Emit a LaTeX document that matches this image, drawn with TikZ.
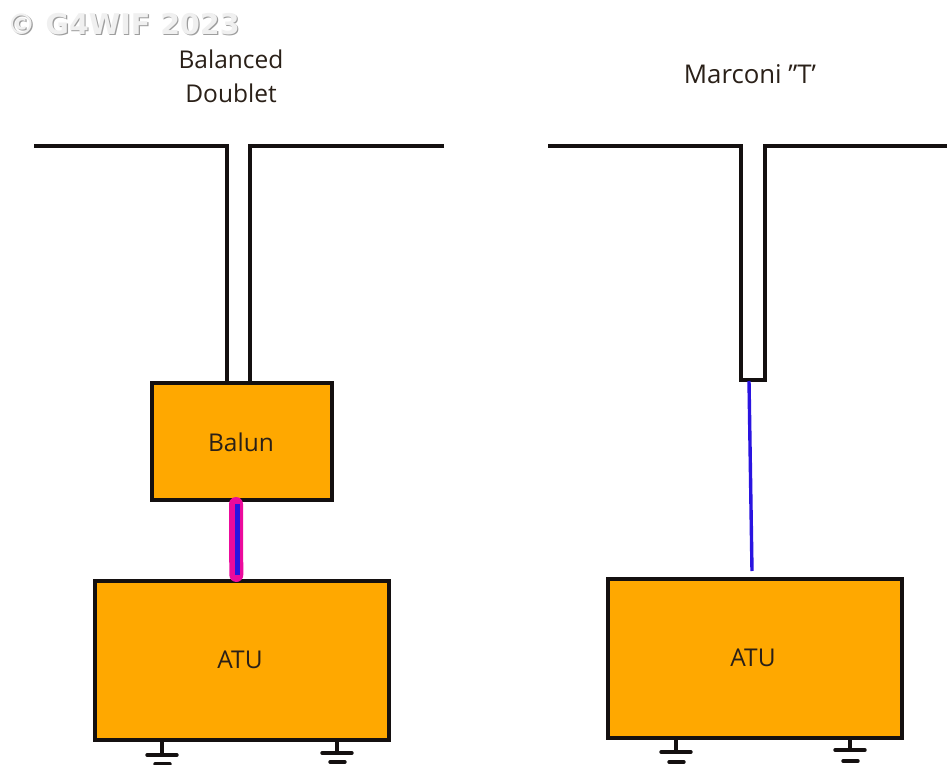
\documentclass[tikz,border=0pt]{standalone}
\usepackage{fontspec}
\setmainfont{Open Sans}
\newfontfamily\markfont{DejaVu Sans}
\definecolor{boxorange}{HTML}{FFA800}
\definecolor{feedmagenta}{HTML}{EC0A9C}
\definecolor{feedblue}{HTML}{2A14E0}
\definecolor{inkblack}{HTML}{141010}
\definecolor{textdark}{HTML}{2A2018}
\tikzset{
  unitbox/.style={draw=inkblack,fill=boxorange,line width=3.7pt,inner sep=0pt,anchor=north west,line join=miter},
  boxlabel/.style={text=textdark,font=\fontsize{24.5}{26}\selectfont,inner sep=0pt},
  wire/.style={draw=inkblack,line width=3.7pt,line join=miter},
  title/.style={text=textdark,font=\fontsize{24.5}{34}\selectfont,align=center,inner sep=0pt},
  feedline/.style={draw=feedblue,line width=3.4pt},
  thickfeed/.style={draw=feedmagenta,line width=14pt,line cap=round},
  groundwire/.style={draw=inkblack,line width=3.4pt,line cap=round},
  markstyle/.style={anchor=west,inner sep=0pt,font=\markfont\bfseries\fontsize{28.5}{30}\selectfont}
}
\newcommand{\grnd}[4]{% id, x, stem top, bar y
  \coordinate (g#1a) at (#2,#3);
  \coordinate (g#1b) at (#2,#4);
  \draw[groundwire,line cap=butt] (g#1a) -- (g#1b);
  \draw[groundwire] (#2-15,#4) -- (#2+15,#4);
}
\begin{document}
\begin{tikzpicture}[x=1pt,y=-1pt]
\useasboundingbox (0,0) rectangle (947,765);
\fill[white] (0,0) rectangle (947,765);

% watermark
\node[markstyle,text=black!38] (markshadow) at (8.2,25.2) {© G4WIF 2023};
\node[markstyle,text=black!6] (mark) at (7,23.8) {© G4WIF 2023};

% titles
\node[title] (t1) at (231,76) {Balanced\\Doublet};
\node[title,font=\fontsize{25.8}{34}\selectfont] (t2) at (750,74) {Marconi \char"22 T\char"27};

% boxes
\node[unitbox,minimum width=180pt,minimum height=117pt] (balun) at (150,381) {};
\node[unitbox,minimum width=294pt,minimum height=159pt] (atuL) at (93,579) {};
\node[unitbox,minimum width=294pt,minimum height=159pt] (atuR) at (606,577) {};
\node[boxlabel] (lbalun) at (241,442) {Balun};
\node[boxlabel] (latuL) at (240,660) {ATU};
\node[boxlabel] (latuR) at (753,658) {ATU};

% left antenna
\coordinate (la) at (34,146);
\coordinate (lb) at (227,146);
\coordinate (lc) at (250,146);
\coordinate (ld) at (444,146);
\coordinate (le) at (227,382);
\coordinate (lf) at (250,382);
\draw[wire] (la) -- (lb) -- (le);
\draw[wire] (ld) -- (lc) -- (lf);

% right antenna
\coordinate (ra) at (548,146);
\coordinate (rb) at (741,146);
\coordinate (rc) at (741,380);
\coordinate (rd) at (765,380);
\coordinate (re) at (765,146);
\coordinate (rf) at (947,146);
\draw[wire] (ra) -- (rb) -- (rc) -- (rd) -- (re) -- (rf);

% feeders
\coordinate (fa) at (749,381);
\coordinate (fb) at (752,571);
\draw[feedline] (fa) -- (fb);

\coordinate (ma) at (236,504);
\coordinate (mb) at (236.3,575);
\draw[thickfeed] (ma) -- (mb);
\coordinate (na) at (237.5,504);
\coordinate (nb) at (237.5,575);
\draw[feedline,line width=5pt] (na) -- (nb);

% grounds
\grnd{1}{162}{739}{755}
\grnd{2}{337}{739}{753}
\grnd{3}{676}{738}{752}
\grnd{4}{850}{737}{750}
\draw[groundwire] (155,764) -- (170,764);
\draw[groundwire] (330,762) -- (345,762);
\draw[groundwire] (669,762) -- (684,762);
\draw[groundwire] (843,761) -- (858,761);
\end{tikzpicture}
\end{document}
